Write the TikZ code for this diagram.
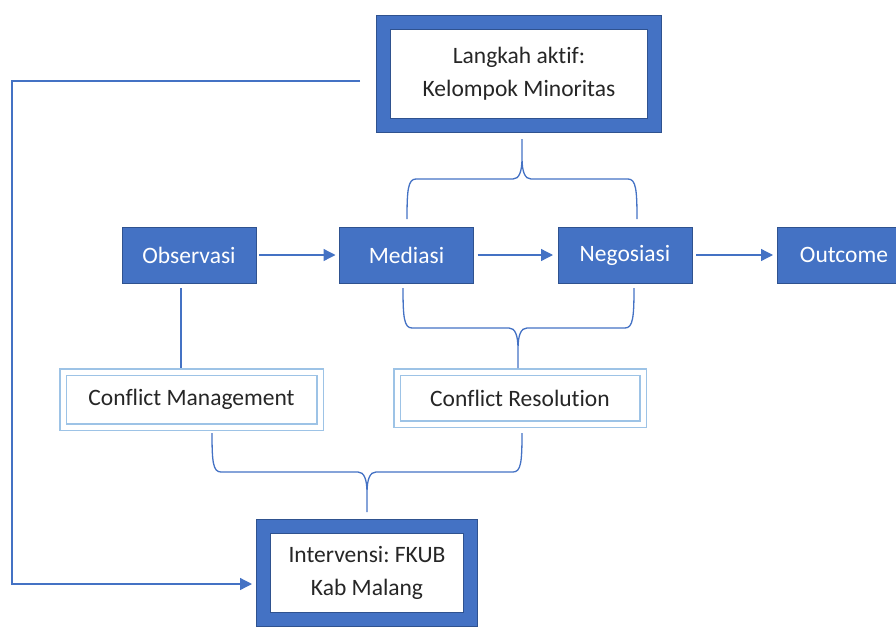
\documentclass[tikz,border=0pt]{standalone}
\usepackage{fontspec}
\setmainfont{Carlito}[Ligatures=NoCommon]
\usetikzlibrary{arrows.meta}
\definecolor{BoxClr}{RGB}{68,114,196}
\definecolor{EdgeClr}{RGB}{47,82,143}
\definecolor{FrameClr}{RGB}{157,195,230}
\definecolor{TextClr}{RGB}{38,38,38}
\frenchspacing

\begin{document}
\begin{tikzpicture}[x=1pt,y=-1pt,
  every node/.style={outer sep=0pt,inner sep=0pt,font=\fontsize{23.5}{33}\selectfont},
  stage/.style={draw=EdgeClr,line width=1pt,fill=BoxClr,text=white,minimum width=134pt,minimum height=56pt},
  focus/.style={draw=EdgeClr,line width=1pt,double=BoxClr,double distance=13pt,fill=white,text=TextClr,align=center},
  frame/.style={draw=FrameClr,line width=1.5pt,double=white,double distance=5pt,fill=white,text=TextClr},
  link/.style={draw=BoxClr,line width=1.3pt},
  flow/.style={link,-{Triangle[length=12pt,width=12pt]}}]
\useasboundingbox (0,0) rectangle (896,634);
\clip (0,0) rectangle (896,634);

\node[focus,minimum width=271pt,minimum height=103pt] (act) at (519,74) {Langkah aktif:\\Kelompok Minoritas};

\node[stage] (obs) at (189,255) {Observasi};
\node[stage] (med) at (406.5,255) {Mediasi};
\node[stage] (neg) at (625,255) {Negosiasi};
\node[stage] (out) at (844,255) {Outcome};

\node[frame,minimum width=257pt,minimum height=55pt] (cm) at (191.5,399.5) {Conflict Management};
\node[frame,minimum width=246pt,minimum height=52pt] (cr) at (520,398) {Conflict Resolution};

\node[focus,minimum width=207pt,minimum height=93pt] (fkub) at (367,573) {Intervensi: FKUB\\Kab Malang};

% main flow
\draw[flow,shorten <=3pt,shorten >=4pt] (obs) -- (med);
\draw[flow,shorten <=4pt,shorten >=5pt] (med) -- (neg);
\draw[flow,shorten <=4pt,shorten >=4pt] (neg) -- (out);

\draw[link] ([xshift=-8pt,yshift=-5pt]obs.south) -- ++(0,80);

% brackets
\draw[link] (407,219) .. controls (407,190) and (408,179) .. (416,179) -- (513,179)
  .. controls (519,179) and (522,172) .. (522,158) -- (522,139)
  (637,219) .. controls (637,190) and (636,179) .. (628,179) -- (531,179)
  .. controls (525,179) and (522,172) .. (522,158);
\draw[link] (403,288) .. controls (403,317) and (404,328) .. (412,328) -- (509,328)
  .. controls (515,328) and (518,335) .. (518,349) -- (518,368)
  (634,288) .. controls (634,317) and (633,328) .. (625,328) -- (527,328)
  .. controls (521,328) and (518,335) .. (518,349);
\draw[link] (212,433) .. controls (212,462) and (213,472) .. (221,472) -- (358,472)
  .. controls (364,472) and (367,479) .. (367,493) -- (367,512)
  (522,433) .. controls (522,462) and (521,472) .. (513,472) -- (376,472)
  .. controls (370,472) and (367,479) .. (367,493);

\draw[flow] ([xshift=-23.5pt,yshift=-7pt]act.west) -| (12,584) -- ([xshift=-11.5pt,yshift=-11pt]fkub.west);

\end{tikzpicture}
\end{document}
